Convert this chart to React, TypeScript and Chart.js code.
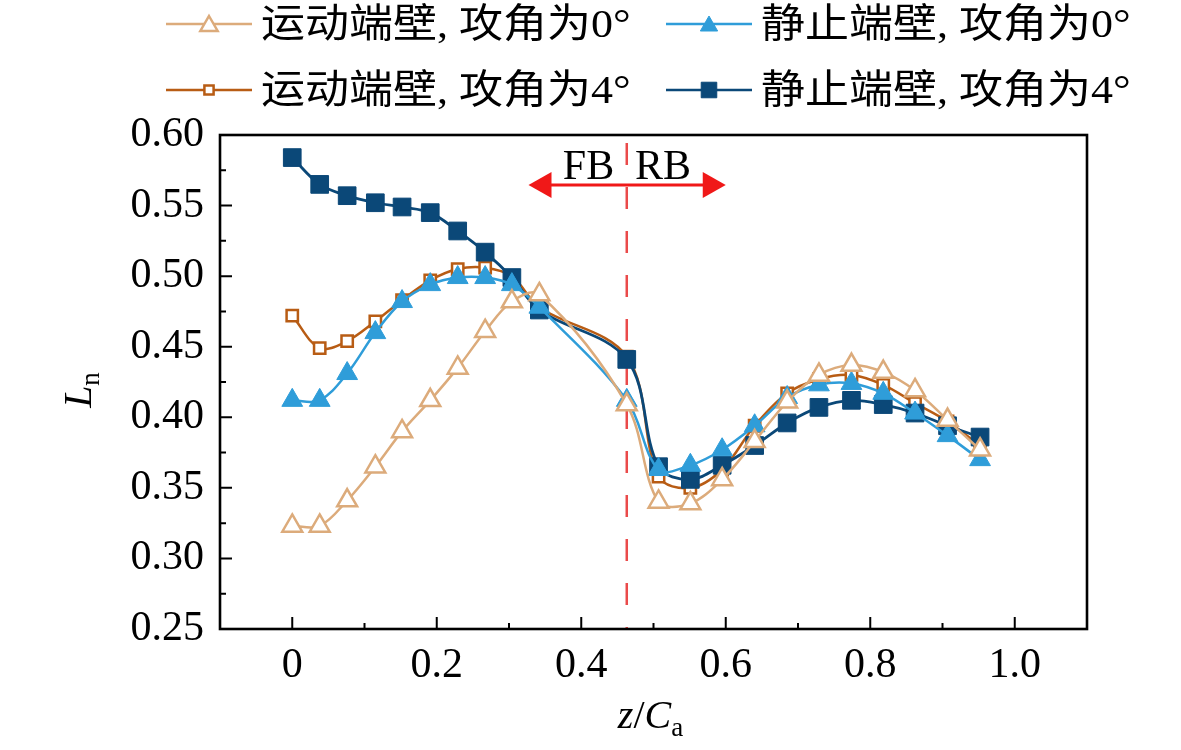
import React, { useEffect, useRef } from 'react';
import { Chart, registerables } from 'chart.js';

Chart.register(...registerables);

// ---- data ----
const Z_CA = [0, 0.038, 0.076, 0.115, 0.152, 0.191, 0.229, 0.267, 0.304, 0.342, 0.463, 0.507, 0.551, 0.595, 0.64, 0.685, 0.729, 0.774, 0.818, 0.862, 0.907, 0.952];
const MOVING_0 = [0.323, 0.323, 0.341, 0.365, 0.39, 0.412, 0.435, 0.461, 0.482, 0.487, 0.409, 0.34, 0.339, 0.356, 0.383, 0.411, 0.43, 0.437, 0.432, 0.419, 0.398, 0.377];
const STATIC_0 = [0.412, 0.412, 0.431, 0.46, 0.482, 0.494, 0.499, 0.499, 0.494, 0.478, 0.412, 0.363, 0.366, 0.377, 0.394, 0.414, 0.423, 0.424, 0.417, 0.403, 0.387, 0.37];
const MOVING_4 = [0.472, 0.449, 0.454, 0.468, 0.483, 0.497, 0.505, 0.506, 0.5, 0.478, 0.443, 0.358, 0.35, 0.363, 0.394, 0.417, 0.427, 0.43, 0.423, 0.41, 0.397, 0.38];
const STATIC_4 = [0.584, 0.565, 0.557, 0.552, 0.549, 0.545, 0.532, 0.517, 0.499, 0.476, 0.441, 0.365, 0.356, 0.366, 0.38, 0.396, 0.407, 0.412, 0.409, 0.403, 0.394, 0.386];

const SERIES_LABELS = ['运动端壁, 攻角为0°', '静止端壁, 攻角为0°', '运动端壁, 攻角为4°', '静止端壁, 攻角为4°'];
const X_TICKS = [0, 0.2, 0.4, 0.6, 0.8, 1.0];
const Y_TICKS = [0.25, 0.3, 0.35, 0.4, 0.45, 0.5, 0.55, 0.6];
const X_RANGE = [-0.1, 1.1];
const Y_RANGE = [0.25, 0.6];

// annotation (FB / RB split)
const DIVIDER_X = 0.463;
const ARROW_FROM = 0.327;
const ARROW_TO = 0.6;
const ARROW_Y = 0.5645;
const FB_X = 0.41;
const RB_X = 0.513;
const REGION_LABEL_Y = 0.5688;

const SERIF = '"Liberation Serif", "Noto Sans CJK SC", serif';

function toPoints(ys: number[]) {
  return ys.map((v, i) => ({ x: Z_CA[i], y: v }));
}

function drawMarker(ctx: CanvasRenderingContext2D, style: string, cx: number, cy: number, r: number, fill: string, stroke: string, lw: number) {
  ctx.beginPath();
  if (style === 'triangle') {
    ctx.moveTo(cx, cy - r);
    ctx.lineTo(cx + r * 0.866, cy + r / 2);
    ctx.lineTo(cx - r * 0.866, cy + r / 2);
    ctx.closePath();
  } else {
    const s = r * Math.SQRT1_2;
    ctx.rect(cx - s, cy - s, 2 * s, 2 * s);
  }
  ctx.fillStyle = fill;
  ctx.fill();
  ctx.lineWidth = lw;
  ctx.strokeStyle = stroke;
  ctx.lineJoin = 'miter';
  ctx.stroke();
}

function drawParts(ctx: CanvasRenderingContext2D, parts: { t: string; f: string; dy: number }[], startX: number, baseY: number) {
  let x = startX;
  for (const p of parts) {
    ctx.font = p.f;
    ctx.fillText(p.t, x, baseY + p.dy);
    x += ctx.measureText(p.t).width;
  }
}
function partsWidth(ctx: CanvasRenderingContext2D, parts: { t: string; f: string; dy: number }[]) {
  let w = 0;
  for (const p of parts) {
    ctx.font = p.f;
    w += ctx.measureText(p.t).width;
  }
  return w;
}

const decorPlugin = {
  id: 'decor',
  beforeDatasetsDraw(chart: any) {
    const { ctx, chartArea: a, scales } = chart;
    const x = scales.x;
    const y = scales.y;
    ctx.save();
    // dashed divider
    const dx = x.getPixelForValue(DIVIDER_X);
    ctx.strokeStyle = 'rgb(234,74,74)';
    ctx.lineWidth = 2.5;
    ctx.setLineDash([22, 22]);
    ctx.lineDashOffset = 36;
    ctx.beginPath();
    ctx.moveTo(dx, a.top);
    ctx.lineTo(dx, a.bottom);
    ctx.stroke();
    ctx.setLineDash([]);
    // double arrow
    const ay = y.getPixelForValue(ARROW_Y);
    const l = x.getPixelForValue(ARROW_FROM);
    const r = x.getPixelForValue(ARROW_TO);
    const hl = 23;
    const hw = 13;
    ctx.strokeStyle = '#f01818';
    ctx.fillStyle = '#f01818';
    ctx.lineWidth = 3;
    ctx.beginPath();
    ctx.moveTo(l + hl - 2, ay);
    ctx.lineTo(r - hl + 2, ay);
    ctx.stroke();
    ctx.beginPath();
    ctx.moveTo(l, ay);
    ctx.lineTo(l + hl, ay - hw);
    ctx.lineTo(l + hl, ay + hw);
    ctx.closePath();
    ctx.fill();
    ctx.beginPath();
    ctx.moveTo(r, ay);
    ctx.lineTo(r - hl, ay - hw);
    ctx.lineTo(r - hl, ay + hw);
    ctx.closePath();
    ctx.fill();
    // FB / RB
    ctx.fillStyle = '#000';
    ctx.font = `42px ${SERIF}`;
    ctx.textAlign = 'center';
    ctx.textBaseline = 'alphabetic';
    const ty = y.getPixelForValue(REGION_LABEL_Y);
    ctx.fillText('FB', x.getPixelForValue(FB_X), ty);
    ctx.fillText('RB', x.getPixelForValue(RB_X), ty);
    ctx.restore();
  },
  afterDatasetsDraw(chart: any) {
    const { ctx, chartArea: a, scales } = chart;
    const x = scales.x;
    const y = scales.y;
    ctx.save();
    ctx.strokeStyle = '#000';
    ctx.lineWidth = 2;
    ctx.beginPath();
    const xMinor = X_TICKS.slice(0, -1).map((v, i) => (v + X_TICKS[i + 1]) / 2);
    for (const v of X_TICKS) {
      const px = x.getPixelForValue(v);
      ctx.moveTo(px, a.bottom);
      ctx.lineTo(px, a.bottom - 12);
    }
    for (const v of xMinor) {
      const px = x.getPixelForValue(v);
      ctx.moveTo(px, a.bottom);
      ctx.lineTo(px, a.bottom - 6);
    }
    const yMinor = Y_TICKS.slice(0, -1).map((v, i) => (v + Y_TICKS[i + 1]) / 2);
    for (const v of Y_TICKS) {
      const py = y.getPixelForValue(v);
      ctx.moveTo(a.left, py);
      ctx.lineTo(a.left + 12, py);
    }
    for (const v of yMinor) {
      const py = y.getPixelForValue(v);
      ctx.moveTo(a.left, py);
      ctx.lineTo(a.left + 6, py);
    }
    ctx.stroke();
    ctx.lineWidth = 2.6;
    ctx.strokeRect(a.left, a.top, a.right - a.left, a.bottom - a.top);
    ctx.restore();
  },
  afterDraw(chart: any) {
    const { ctx, chartArea: a } = chart;
    ctx.save();
    // legend
    const pos = [
      [166, 24],
      [666, 24],
      [166, 90],
      [666, 90],
    ];
    const legendOrder = [0, 1, 2, 3];
    legendOrder.forEach((di, k) => {
      const ds = chart.data.datasets[di];
      const [lx, ly] = pos[k];
      const len = 86;
      ctx.strokeStyle = ds.borderColor;
      ctx.lineWidth = 2.5;
      ctx.beginPath();
      ctx.moveTo(lx, ly);
      ctx.lineTo(lx + len, ly);
      ctx.stroke();
      const isTri = ds.pointStyle === 'triangle';
      const mr = isTri ? 10 : ds.pointBackgroundColor === '#ffffff' ? 6.5 : 11;
      drawMarker(ctx, ds.pointStyle, lx + len / 2, ly + (isTri ? 2 : 0), mr, ds.pointBackgroundColor, ds.borderColor, ds.pointBorderWidth);
      ctx.save();
      ctx.translate(lx + len + 9, ly + 2);
      ctx.scale(1.1, 1);
      ctx.fillStyle = '#000';
      ctx.font = `40px ${SERIF}`;
      ctx.textAlign = 'left';
      ctx.textBaseline = 'middle';
      ctx.fillText(ds.label, 0, 0);
      ctx.restore();
    });
    // x axis title z/Ca
    ctx.fillStyle = '#000';
    ctx.textAlign = 'left';
    ctx.textBaseline = 'alphabetic';
    const xParts = [
      { t: 'z', f: `italic 40px ${SERIF}`, dy: 0 },
      { t: '/', f: `40px ${SERIF}`, dy: 0 },
      { t: 'C', f: `italic 40px ${SERIF}`, dy: 0 },
      { t: 'a', f: `27px ${SERIF}`, dy: 8 },
    ];
    const xw = partsWidth(ctx, xParts);
    drawParts(ctx, xParts, (a.left + a.right) / 2 - xw / 2 - 3, 728);
    // y axis title Ln
    const yParts = [
      { t: 'L', f: `italic 40px ${SERIF}`, dy: 0 },
      { t: 'n', f: `27px ${SERIF}`, dy: 8 },
    ];
    const yw = partsWidth(ctx, yParts);
    ctx.save();
    ctx.translate(91, 390);
    ctx.rotate(-Math.PI / 2);
    drawParts(ctx, yParts, -yw / 2, 0);
    ctx.restore();
    ctx.restore();
  },
};

const TAN = '#dcab7b';
const LIGHT_BLUE = '#2f9dd9';
const BROWN = '#b85c14';
const NAVY = '#0b4878';

export default function App() {
  const ref = useRef<HTMLCanvasElement | null>(null);
  useEffect(() => {
    document.body.style.margin = '0';
    const canvas = ref.current;
    if (!canvas) return;
    const chart = new Chart(canvas, {
      type: 'line',
      data: {
        datasets: [
          {
            label: SERIES_LABELS[0],
            data: toPoints(MOVING_0),
            borderColor: TAN,
            borderWidth: 2.5,
            pointStyle: 'triangle',
            pointRadius: 11.5,
            pointBackgroundColor: '#ffffff',
            pointBorderColor: TAN,
            pointBorderWidth: 2.5,
            tension: 0.35,
            order: 1,
          } as any,
          {
            label: SERIES_LABELS[1],
            data: toPoints(STATIC_0),
            borderColor: LIGHT_BLUE,
            borderWidth: 2.5,
            pointStyle: 'triangle',
            pointRadius: 12,
            pointBackgroundColor: LIGHT_BLUE,
            pointBorderColor: LIGHT_BLUE,
            pointBorderWidth: 1,
            tension: 0.35,
            order: 2,
          },
          {
            label: SERIES_LABELS[2],
            data: toPoints(MOVING_4),
            borderColor: BROWN,
            borderWidth: 2.5,
            pointStyle: 'rect',
            pointRadius: 8,
            pointBackgroundColor: '#ffffff',
            pointBorderColor: BROWN,
            pointBorderWidth: 2.5,
            tension: 0.35,
            order: 4,
          },
          {
            label: SERIES_LABELS[3],
            data: toPoints(STATIC_4),
            borderColor: NAVY,
            borderWidth: 2.8,
            pointStyle: 'rect',
            pointRadius: 12.5,
            pointBackgroundColor: NAVY,
            pointBorderColor: NAVY,
            pointBorderWidth: 1,
            tension: 0.35,
            order: 3,
          },
        ],
      },
      options: {
        responsive: false,
        animation: false,
        devicePixelRatio: 1,
        layout: { padding: { top: 135, right: 94, left: 0, bottom: 0 } },
        plugins: { legend: { display: false }, tooltip: { enabled: false } },
        scales: {
          x: {
            type: 'linear',
            min: X_RANGE[0],
            max: X_RANGE[1],
            grid: { display: false, drawTicks: false },
            border: { display: false },
            afterBuildTicks: (s: any) => {
              s.ticks = X_TICKS.map((value) => ({ value }));
            },
            afterFit: (s: any) => {
              s.height = 121;
            },
            ticks: {
              color: '#000',
              padding: 12,
              maxRotation: 0,
              autoSkip: false,
              font: { family: SERIF, size: 42 },
              callback: (v: any) => (Number(v) === 0 ? '0' : Number(v).toFixed(1)),
            },
          },
          y: {
            type: 'linear',
            min: Y_RANGE[0],
            max: Y_RANGE[1],
            grid: { display: false, drawTicks: false },
            border: { display: false },
            afterBuildTicks: (s: any) => {
              s.ticks = Y_TICKS.map((value) => ({ value }));
            },
            afterFit: (s: any) => {
              s.width = 220;
            },
            ticks: {
              color: '#000',
              padding: 16,
              autoSkip: false,
              font: { family: SERIF, size: 42 },
              callback: (v: any) => Number(v).toFixed(2),
            },
          },
        },
      },
      plugins: [decorPlugin],
    });
    return () => chart.destroy();
  }, []);
  return (
    <div style={{ width: 1181, height: 750, background: '#fff' }}>
      <canvas ref={ref} width={1181} height={750} style={{ display: 'block', width: 1181, height: 750 }} />
    </div>
  );
}
